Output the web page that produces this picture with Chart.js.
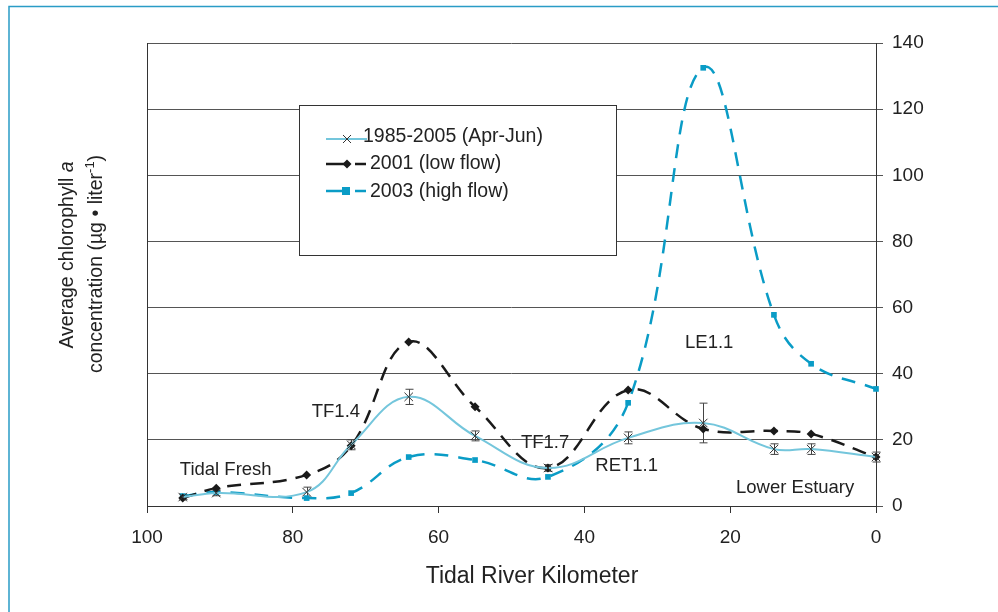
<!DOCTYPE html>
<html><head><meta charset="utf-8">
<script src="https://cdn.jsdelivr.net/npm/chart.js@4.4.1/dist/chart.umd.min.js"></script>
<style>html,body{margin:0;padding:0;background:#fff;} #wrap{position:relative;width:998px;height:612px;}</style>
</head><body><div id="wrap"><canvas id="c"></canvas></div>
<script>
// ---- data ----
const kilometers   = [95.1, 90.5, 78.1, 72.0, 64.1, 55.0, 45.0, 34.0, 23.7, 14.0, 8.9, 0];
const avg1985_2005 = [2.7, 3.9, 4.2, 18.5, 33.0, 21.2, 11.5, 20.6, 25.1, 17.2, 17.2, 14.8];
const avgErrors    = [0.8, 0.8, 1.5, 1.5, 2.3, 1.5, 1.0, 1.8, 6.0, 1.6, 1.6, 1.5];
const low2001      = [2.4, 5.4, 9.4, 18.2, 49.6, 30.0, 11.5, 35.1, 23.3, 22.7, 21.8, 14.8];
const high2003     = [3.0, 4.2, 2.4, 3.9, 14.8, 13.9, 8.8, 31.2, 132.5, 57.8, 43.0, 35.4];
const xTickValues  = [100, 80, 60, 40, 20, 0];
const seriesNames  = ['1985-2005 (Apr-Jun)', '2001 (low flow)', '2003 (high flow)'];
const siteNames    = ['Tidal Fresh', 'TF1.4', 'TF1.7', 'RET1.1', 'Lower Estuary', 'LE1.1'];

// ---- styling / layout ----
const FONT = '"Liberation Sans", Arial, Helvetica, sans-serif';
const C_LIGHT = '#74c6dc', C_BLACK = '#1a1a1a', C_TEAL = '#0a9cc6', C_FRAME = '#2a9cc6';
const siteAnchors = [[95.5,10.9],[77.4,28.4],[48.7,19.1],[38.5,12.1],[19.2,5.4],[26.2,49.3]];
const toPts = ys => kilometers.map((k,i)=>({x:k, y:ys[i]}));

const decorPlugin = {
  id:'decor',
  beforeDraw(chart){
    const ctx = chart.ctx;
    ctx.save();
    ctx.strokeStyle = C_FRAME; ctx.lineWidth = 1.5;
    ctx.beginPath(); ctx.moveTo(9, 612); ctx.lineTo(9, 6.5); ctx.lineTo(998, 6.5); ctx.stroke();
    ctx.restore();
  },
  beforeDatasetsDraw(chart){
    const {ctx, chartArea:a} = chart;
    ctx.save();
    ctx.strokeStyle = '#333'; ctx.lineWidth = 1;
    ctx.beginPath(); ctx.moveTo(a.left+0.5, a.bottom); ctx.lineTo(a.left+0.5, a.top); ctx.stroke();
    // error bars
    const xs = chart.scales.x, ys = chart.scales.y;
    ctx.strokeStyle = '#444'; ctx.lineWidth = 1;
    kilometers.forEach((k,i)=>{
      const x = Math.round(xs.getPixelForValue(k))+0.5;
      const y1 = ys.getPixelForValue(avg1985_2005[i]+avgErrors[i]);
      const y2 = ys.getPixelForValue(avg1985_2005[i]-avgErrors[i]);
      ctx.beginPath();
      ctx.moveTo(x, y1); ctx.lineTo(x, y2);
      ctx.moveTo(x-4, y1); ctx.lineTo(x+4, y1);
      ctx.moveTo(x-4, y2); ctx.lineTo(x+4, y2);
      ctx.stroke();
    });
    ctx.restore();
  },
  afterDraw(chart){
    const ctx = chart.ctx;
    const xs = chart.scales.x, ys = chart.scales.y;
    ctx.save();
    // site labels
    ctx.fillStyle = '#222'; ctx.font = '18.5px '+FONT; ctx.textAlign='left'; ctx.textBaseline='middle';
    siteNames.forEach((n,i)=>{
      ctx.fillText(n, xs.getPixelForValue(siteAnchors[i][0]), ys.getPixelForValue(siteAnchors[i][1]));
    });
    // legend box
    ctx.fillStyle = '#fff'; ctx.fillRect(299.5,105.5,317,150);
    ctx.strokeStyle = '#333'; ctx.lineWidth = 1; ctx.strokeRect(299.5,105.5,317,150);
    // row 1
    ctx.strokeStyle = C_LIGHT; ctx.lineWidth = 2;
    ctx.beginPath(); ctx.moveTo(326,139); ctx.lineTo(367,139); ctx.stroke();
    ctx.strokeStyle = '#333'; ctx.lineWidth = 1;
    ctx.beginPath(); ctx.moveTo(343,135); ctx.lineTo(351,143); ctx.moveTo(351,135); ctx.lineTo(343,143); ctx.stroke();
    // row 2
    ctx.strokeStyle = C_BLACK; ctx.lineWidth = 2.5;
    ctx.beginPath(); ctx.moveTo(326,164); ctx.lineTo(350,164); ctx.moveTo(355,164); ctx.lineTo(366,164); ctx.stroke();
    ctx.fillStyle = C_BLACK;
    ctx.beginPath(); ctx.moveTo(347,159.5); ctx.lineTo(351.5,164); ctx.lineTo(347,168.5); ctx.lineTo(342.5,164); ctx.closePath(); ctx.fill();
    // row 3
    ctx.strokeStyle = C_TEAL; ctx.lineWidth = 2.5;
    ctx.beginPath(); ctx.moveTo(326,191); ctx.lineTo(350,191); ctx.moveTo(355,191); ctx.lineTo(366,191); ctx.stroke();
    ctx.fillStyle = C_TEAL; ctx.fillRect(342,187,8,8);
    ctx.fillStyle = '#222'; ctx.font = '19.5px '+FONT; ctx.textBaseline='middle';
    ctx.fillText(seriesNames[0], 363, 137);
    ctx.fillText(seriesNames[1], 370, 164);
    ctx.fillText(seriesNames[2], 370, 192);
    // axis titles
    ctx.font = '23px '+FONT; ctx.textAlign='center';
    ctx.fillText('Tidal River Kilometer', 532, 577);
    drawRich(ctx, [{t:'Average chlorophyll ', f:'19.5px '+FONT},{t:'a', f:'italic 19.5px '+FONT}], 68, 255);
    drawRich(ctx, [{t:'concentration (µg • liter', f:'19.5px '+FONT},{t:'-1', f:'13px '+FONT, dy:-7},{t:')', f:'19.5px '+FONT}], 97, 264);
    ctx.restore();
  }
};
function drawRich(ctx, parts, cx, cy){
  ctx.save();
  ctx.translate(cx, cy); ctx.rotate(-Math.PI/2);
  ctx.textAlign='left'; ctx.textBaseline='middle'; ctx.fillStyle='#222';
  let w = 0;
  parts.forEach(p=>{ctx.font=p.f; p.w = ctx.measureText(p.t).width; w += p.w;});
  let x = -w/2;
  parts.forEach(p=>{ctx.font=p.f; ctx.fillText(p.t, x, p.dy||0); x += p.w;});
  ctx.restore();
}

new Chart(document.getElementById('c'), {
  type:'line',
  data:{datasets:[
    {label:seriesNames[0], data:toPts(avg1985_2005), borderColor:C_LIGHT, borderWidth:2, tension:0.4, clip:false,
     pointStyle:'crossRot', pointRadius:6, pointBorderColor:'#333', pointBorderWidth:1, pointBackgroundColor:'#333'},
    {label:seriesNames[1], data:toPts(low2001), borderColor:C_BLACK, borderWidth:2.5, borderDash:[14,9], tension:0.4, clip:false,
     pointStyle:'rectRot', pointRadius:4.5, pointBackgroundColor:C_BLACK, pointBorderColor:C_BLACK, pointBorderWidth:0},
    {label:seriesNames[2], data:toPts(high2003), borderColor:C_TEAL, borderWidth:2.5, borderDash:[14,10], tension:0.4, clip:false,
     pointStyle:'rect', pointRadius:4, pointBackgroundColor:C_TEAL, pointBorderColor:C_TEAL, pointBorderWidth:0}
  ]},
  options:{
    responsive:true, maintainAspectRatio:false, animation:false,
    layout:{padding:{left:147, top:43, right:0, bottom:0}},
    plugins:{legend:{display:false}, tooltip:{enabled:false}},
    scales:{
      x:{type:'linear', reverse:true, min:0, max:100,
         afterBuildTicks:s=>{s.ticks = xTickValues.map(v=>({value:v}));},
         afterFit:s=>{s.height = 106;},
         grid:{drawOnChartArea:false, drawTicks:true, tickLength:7, color:'#333'},
         border:{color:'#333', width:1},
         ticks:{color:'#222', font:{family:FONT, size:19}, padding:13, maxRotation:0}},
      y:{position:'right', min:0, max:140,
         afterFit:s=>{s.width = 122;},
         ticks:{stepSize:20, color:'#222', font:{family:FONT, size:19}, padding:9},
         grid:{color:'#555', tickLength:7, lineWidth:1},
         border:{color:'#333', width:1}}
    }
  },
  plugins:[decorPlugin]
});
</script>
</body></html>
